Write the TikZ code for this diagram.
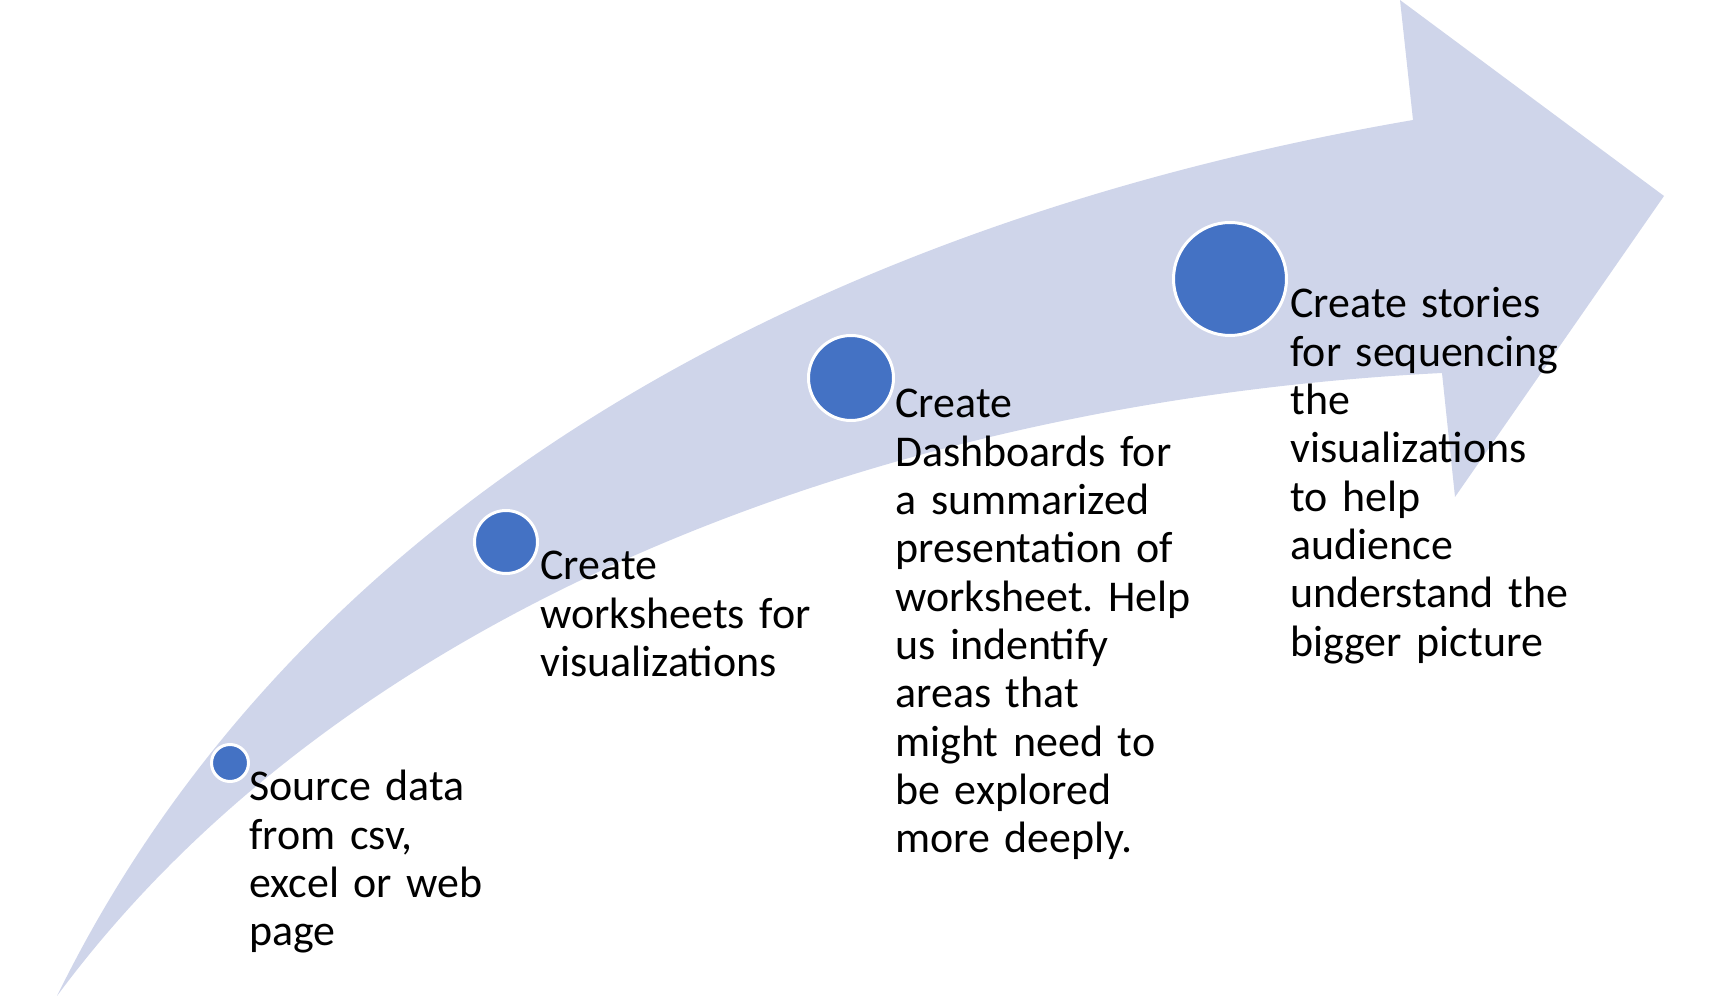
\documentclass[tikz,border=0pt]{standalone}
\usepackage{fontspec}
\setmainfont{Carlito}
\frenchspacing
\definecolor{bandblue}{HTML}{CFD5EA}
\definecolor{dotblue}{HTML}{4472C4}
\tikzset{
  dot/.style={circle, fill=dotblue, draw=white, line width=0.06cm, inner sep=0pt, outer sep=0pt},
  blurb/.style={anchor=base west, inner sep=0pt, text width=7cm, align=left, font=\fontsize{25}{27.5}\selectfont}
}

\begin{document}
\begin{tikzpicture}[x=0.02cm, y=-0.02cm]
    \def\px{0.02cm}
\useasboundingbox (0,0) rectangle (1722,996);
% curved band with its head
\fill[bandblue] (57,996) .. controls (300,500) and (820,222) .. (1413,120)
  -- (1400,0) -- (1664,196) -- (1455,497) -- (1442,373)
  .. controls (900,400) and (350,600) .. (57,996) -- cycle;
% the four steps
\node[dot, minimum size=37*\px] (d1) at (230,763) {};
\node[dot, minimum size=63*\px] (d2) at (506,542) {};
\node[dot, minimum size=85*\px] (d3) at (851,378) {};
\node[dot, minimum size=113*\px] (d4) at (1230,279) {};
\node[blurb] (t1) at (249,801) {Source data\\from csv,\\excel or web\\page};
\node[blurb] (t2) at (540,580) {Create\\worksheets for\\visualizations};
\node[blurb] (t3) at (895,418) {Create\\Dashboards for\\a summarized\\presentation of\\worksheet. Help\\us indentify\\areas that\\might need to\\be explored\\more deeply.};
\node[blurb] (t4) at (1290,318) {Create stories\\for sequencing\\the\\visualizations\\to help\\audience\\understand the\\bigger picture};
\end{tikzpicture}
\end{document}
